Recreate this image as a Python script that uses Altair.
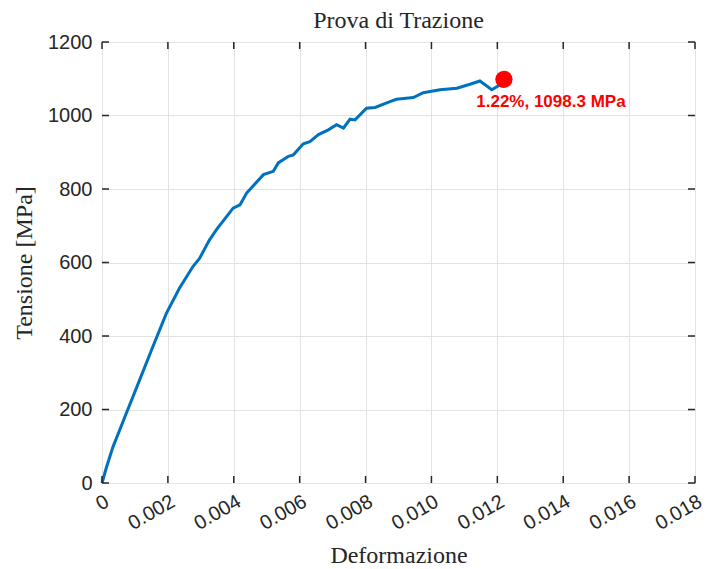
import altair as alt
import pandas as pd

strain = [0, 0.000127, 0.000328, 0.000735, 0.00114, 0.00154, 0.00195, 0.00235, 0.00276,
          0.00296, 0.00326, 0.00348, 0.00398, 0.00419, 0.00439, 0.0049, 0.0052,
          0.00535, 0.00566, 0.00581, 0.00611, 0.00631, 0.00657, 0.00687, 0.00712, 0.00733,
          0.00753, 0.00768, 0.00803, 0.00829, 0.00874, 0.00894, 0.00945, 0.00975, 0.01026,
          0.01077, 0.01117, 0.01147, 0.01167, 0.01183, 0.01203, 0.0122]
stress = [0, 40, 97, 189, 280, 370, 461, 530, 589,
          611, 661, 690, 748, 757, 789, 839, 848,
          871, 889, 893, 923, 929, 948, 961, 975, 966,
          990, 988, 1020, 1022, 1038, 1044, 1049, 1062, 1070,
          1074, 1085, 1094, 1081, 1070, 1081, 1098.3]

peak_strain = [0.0122]
peak_stress = [1098.3]
peak_label = ["1.22%, 1098.3 MPa"]

title_text = ["Prova di Trazione"]

x_ticks = [0, 0.002, 0.004, 0.006, 0.008, 0.010, 0.012, 0.014, 0.016, 0.018]
y_ticks = [0, 200, 400, 600, 800, 1000, 1200]

W, H = 593, 441
AX = "#262626"

df = pd.DataFrame({"strain": strain, "stress": stress})
peak = pd.DataFrame({"strain": peak_strain, "stress": peak_stress, "label": peak_label})
xt = pd.DataFrame({"v": x_ticks})
yt = pd.DataFrame({"v": y_ticks})
tdf = pd.DataFrame({"t": title_text})

xscale = alt.Scale(domain=[0, 0.018], nice=False, zero=False)
yscale = alt.Scale(domain=[0, 1200], nice=False, zero=False)

xaxis = alt.Axis(
    values=x_ticks, title="Deformazione", grid=True, gridColor="#e3e3e3", gridWidth=1,
    domain=False, ticks=False, labelAngle=-30, labelAlign="right", labelBaseline="top",
    labelPadding=8, labelFont="Liberation Sans", labelFontSize=20, labelColor=AX,
    labelExpr="datum.value == 0 ? '0' : format(datum.value, '.3f')",
    titleFont="Liberation Serif", titleFontSize=24, titleFontWeight="normal",
    titleColor=AX, titlePadding=10, labelOverlap=False, labelFlush=False,
)
yaxis = alt.Axis(
    values=y_ticks, title="Tensione [MPa]", grid=True, gridColor="#e3e3e3", gridWidth=1,
    domain=False, ticks=False, labelPadding=10, labelFont="Liberation Sans",
    labelFontSize=20, labelColor=AX, format="d",
    titleFont="Liberation Serif", titleFontSize=24, titleFontWeight="normal",
    titleColor=AX, titlePadding=11, labelOverlap=False, labelFlush=False,
)

line = alt.Chart(df).mark_line(color="#0072BD", strokeWidth=3).encode(
    x=alt.X("strain:Q", scale=xscale, axis=xaxis),
    y=alt.Y("stress:Q", scale=yscale, axis=yaxis),
    order="strain:Q",
)

dot = alt.Chart(peak).mark_point(filled=True, color="#FF0000", size=300, opacity=1, shape="circle").encode(
    x=alt.X("strain:Q", scale=xscale), y=alt.Y("stress:Q", scale=yscale)
)
label = alt.Chart(peak).mark_text(
    color="#FF0000", font="Liberation Sans", fontSize=17, fontWeight="bold",
    align="center", baseline="middle", dx=47, dy=23,
).encode(x=alt.X("strain:Q", scale=xscale), y=alt.Y("stress:Q", scale=yscale), text="label:N")

title = alt.Chart(tdf).mark_text(
    color=AX, font="Liberation Serif", fontSize=24, align="center", baseline="alphabetic",
).encode(x=alt.value(W / 2), y=alt.value(-14), text="t:N")

TL = 7
bt = alt.Chart(xt).mark_rule(color=AX, strokeWidth=1.5).encode(
    x=alt.X("v:Q", scale=xscale), y=alt.value(H), y2=alt.value(H - TL))
tt = alt.Chart(xt).mark_rule(color=AX, strokeWidth=1.5).encode(
    x=alt.X("v:Q", scale=xscale), y=alt.value(0), y2=alt.value(TL))
lt = alt.Chart(yt).mark_rule(color=AX, strokeWidth=1.5).encode(
    y=alt.Y("v:Q", scale=yscale), x=alt.value(0), x2=alt.value(TL))
rt = alt.Chart(yt).mark_rule(color=AX, strokeWidth=1.5).encode(
    y=alt.Y("v:Q", scale=yscale), x=alt.value(W), x2=alt.value(W - TL))

chart = alt.layer(line, bt, tt, lt, rt, dot, label, title).properties(
    width=W, height=H,
    autosize=alt.AutoSizeParams(type="none"),
    padding={"left": 102, "top": 42, "right": 12, "bottom": 86},
).configure_view(stroke=AX, strokeWidth=1.5).configure(background="white")

chart.save("out.html", embed_options={"renderer": "svg", "actions": False})
